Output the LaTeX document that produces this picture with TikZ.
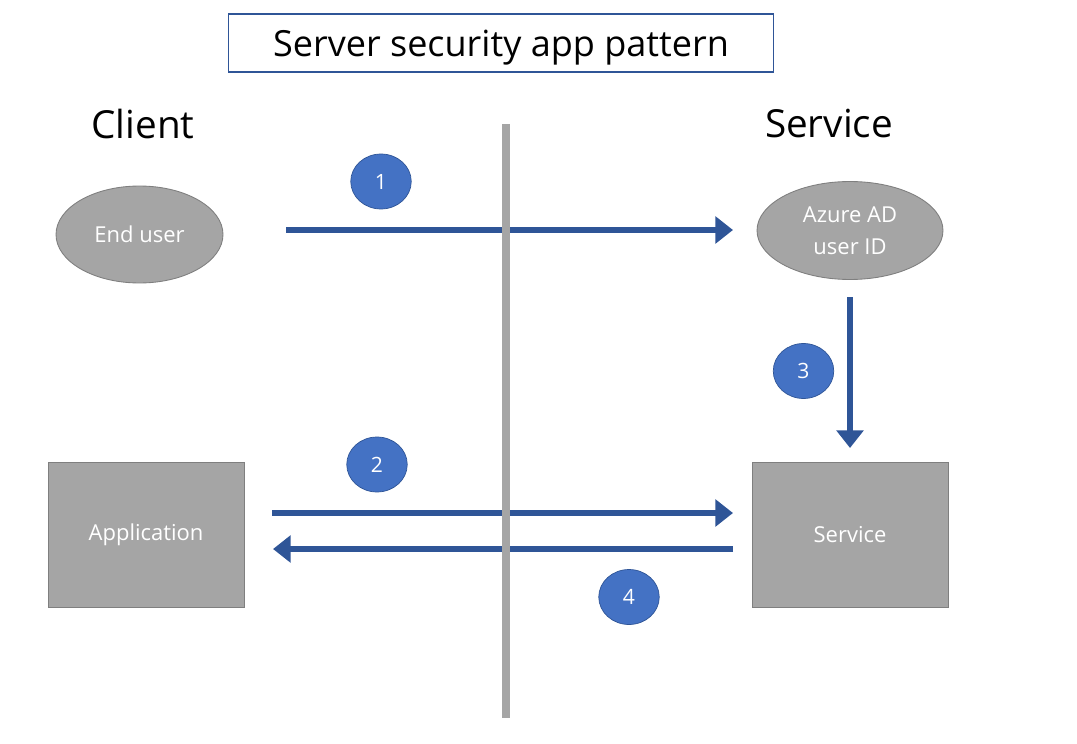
\documentclass[tikz,border=0pt]{standalone}
\usepackage{fontspec}
\setmainfont{Open Sans}
\usetikzlibrary{arrows.meta,shapes.geometric}
\definecolor{darkblue}{RGB}{47,85,151}
\definecolor{stepblue}{RGB}{68,114,196}
\definecolor{boxgray}{RGB}{165,165,165}
\definecolor{edgegray}{RGB}{127,127,127}

\begin{document}
\begin{tikzpicture}[x=0.02cm, y=-0.02cm,
    actor/.style={ellipse, draw=edgegray, line width=0.5pt, fill=boxgray, text=white,
        inner sep=0pt, align=center, font=\fontsize{12.5pt}{18pt}\selectfont},
    block/.style={rectangle, draw=edgegray, line width=0.5pt, fill=boxgray, text=white,
        minimum width=3.92cm, minimum height=2.9cm, font=\fontsize{12.5pt}{18pt}\selectfont},
    badge/.style={ellipse, draw=darkblue, line width=0.4pt, fill=stepblue, text=white,
        minimum width=1.21cm, minimum height=1.1cm, inner sep=0pt,
        font=\fontsize{12pt}{14pt}\selectfont},
    msg/.style={darkblue, line width=3pt, -{Triangle[length=10pt, width=15pt]}},
    side/.style={font=\fontsize{22pt}{26pt}\selectfont}]
    \useasboundingbox (0,0) rectangle (1077,743);

    % Titel
    \node[draw=darkblue, line width=0.6pt, minimum width=10.92cm, minimum height=1.16cm,
        text depth=0pt, font=\fontsize{20.5pt}{24pt}\selectfont] (title) at (501,43) {Server security app pattern};

    % Kanten
    \node[side] (client) at (143,124) {Client};
    \node[side] (service) at (829,124) {Service};

    % Knopen
    \node[actor, minimum width=3.34cm, minimum height=1.94cm] (enduser) at (139.5,234.5) {End user};
    \node[actor, minimum width=3.72cm, minimum height=1.96cm] (azure) at (850,230.5) {Azure AD\\user ID};
    \node[block] (app) at (146,534.5) {Application};
    \node[block] (svc) at (850,534.5) {Service};

    % Stappen
    \node[badge] (s1) at (381,181.5) {1};
    \node[badge] (s2) at (377,464.5) {2};
    \node[badge] (s3) at (803.5,371) {3};
    \node[badge] (s4) at (629,597) {4};

    % Pijlen
    \coordinate (m1a) at (286,230);
    \coordinate (m1b) at (733,230);
    \coordinate (m2a) at (272,513);
    \coordinate (m2b) at (733,513);
    \coordinate (m3a) at (850,297);
    \coordinate (m3b) at (850,448);
    \coordinate (m4a) at (733,549);
    \coordinate (m4b) at (273,549);
    \draw[msg] (m1a) -- (m1b);
    \draw[msg] (m2a) -- (m2b);
    \draw[msg] (m3a) -- (m3b);
    \draw[msg] (m4a) -- (m4b);

    % Scheiding
    \coordinate (wtop) at (506,124);
    \coordinate (wbot) at (506,718);
    \draw[boxgray, line width=4.5pt] (wtop) -- (wbot);
\end{tikzpicture}
\end{document}
